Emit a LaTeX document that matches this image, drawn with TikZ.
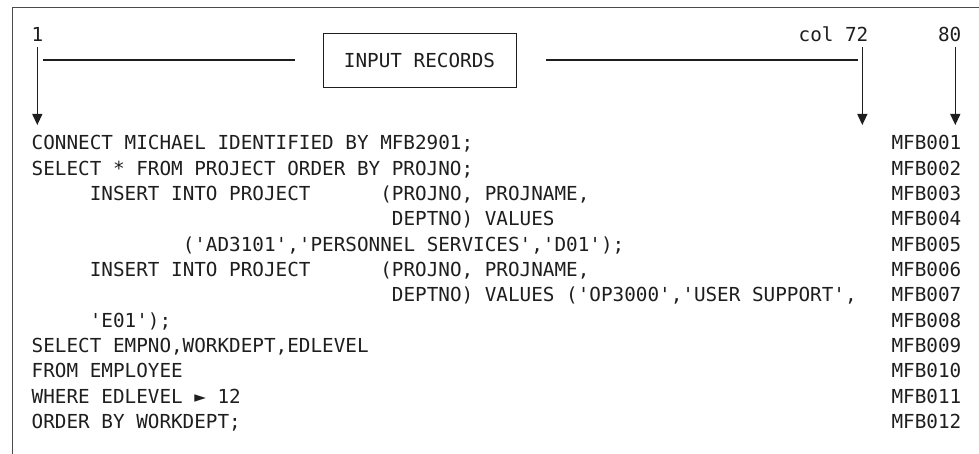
\documentclass[tikz,border=0pt]{standalone}
\usepackage{fontspec}
\setmonofont{DejaVu Sans Mono}
\usetikzlibrary{arrows.meta}
\definecolor{ink}{HTML}{1E1E1E}
\newdimen\spcw \spcw=11.62pt
\newcommand\sk[1]{\hspace*{#1\spcw}}

\begin{document}
\begin{tikzpicture}[x=1pt,y=-1pt,
	declare function={cx(\n)=31.5+(\n-1)*11.62; ry(\n)=150+(\n-1)*25.3;}]
		%\draw[help lines] (0,0) grid[step=20] (979,454);
		\tikzset{SqlStyle/.style = {font=\ttfamily\fontsize{19.3}{25}\selectfont, text=ink, inner sep=0pt, anchor=base west},
			ArrowStyle/.style = {-{Triangle[length=11pt,width=10pt]}, line width=1.2pt, draw=ink},
			RuleStyle/.style = {line width=1.1pt, draw=ink}}
		\useasboundingbox (0,0) rectangle (979,454);
		\draw[line width=0.9pt, draw=ink!80] (979,7) -- (12,7) -- (12,454);
		% column marks
		\node[SqlStyle, anchor=base] (c1) at ({cx(1)+5.81},42) {1};
		\node[SqlStyle] (c72) at ({cx(67)},42) {col 72};
		\node[SqlStyle] (c80) at ({cx(79)},42) {80};
		\coordinate (t1) at ({cx(1)+5.81},125);
		\coordinate (t72) at ({cx(72)+5.81},125);
		\coordinate (t80) at ({cx(80)+5.81},125);
		\draw[ArrowStyle] ([yshift=-5pt]c1.south -| t1) -- (t1);
		\draw[ArrowStyle] ([yshift=-5pt]c72.south -| t72) -- (t72);
		\draw[ArrowStyle] ([yshift=-5pt]c80.south -| t80) -- (t80);
		\node[SqlStyle, anchor=center, draw=ink, line width=0.9pt,
			minimum width=193pt, minimum height=54pt] (box) at (419.5,60) {INPUT RECORDS};
		\coordinate (h1) at (43,60);
		\coordinate (h2) at (858,60);
		\draw[RuleStyle] (h1) -- ([xshift=-28pt]box.west);
		\draw[RuleStyle] ([xshift=30pt]box.east) -- (h2);
		% records
		\node[SqlStyle] (l1) at ({cx(1)},{ry(1)}) {CONNECT MICHAEL IDENTIFIED BY MFB2901;};
		\node[SqlStyle] (l2) at ({cx(1)},{ry(2)}) {SELECT * FROM PROJECT ORDER BY PROJNO;};
		\node[SqlStyle] (l3) at ({cx(6)},{ry(3)}) {INSERT INTO PROJECT\sk{6}(PROJNO, PROJNAME,};
		\node[SqlStyle] (l4) at ({cx(32)},{ry(4)}) {DEPTNO) VALUES};
		\node[SqlStyle] (l5) at ({cx(14)},{ry(5)}) {('AD3101','PERSONNEL SERVICES','D01');};
		\node[SqlStyle] (l6) at ({cx(6)},{ry(6)}) {INSERT INTO PROJECT\sk{6}(PROJNO, PROJNAME,};
		\node[SqlStyle] (l7) at ({cx(32)},{ry(7)}) {DEPTNO) VALUES ('OP3000','USER SUPPORT',};
		\node[SqlStyle] (l8) at ({cx(6)},{ry(8)}) {'E01');};
		\node[SqlStyle] (l9) at ({cx(1)},{ry(9)}) {SELECT EMPNO,WORKDEPT,EDLEVEL};
		\node[SqlStyle] (l10) at ({cx(1)},{ry(10)}) {FROM EMPLOYEE};
		\node[SqlStyle] (l11) at ({cx(1)},{ry(11)}) {WHERE EDLEVEL ► 12};
		\node[SqlStyle] (l12) at ({cx(1)},{ry(12)}) {ORDER BY WORKDEPT;};
		\foreach \n in {1,...,12}
			\node[SqlStyle] (m\n) at ({cx(75)},{ry(\n)}) {MFB0\ifnum\n<10 0\fi\n};
\end{tikzpicture}
\end{document}
